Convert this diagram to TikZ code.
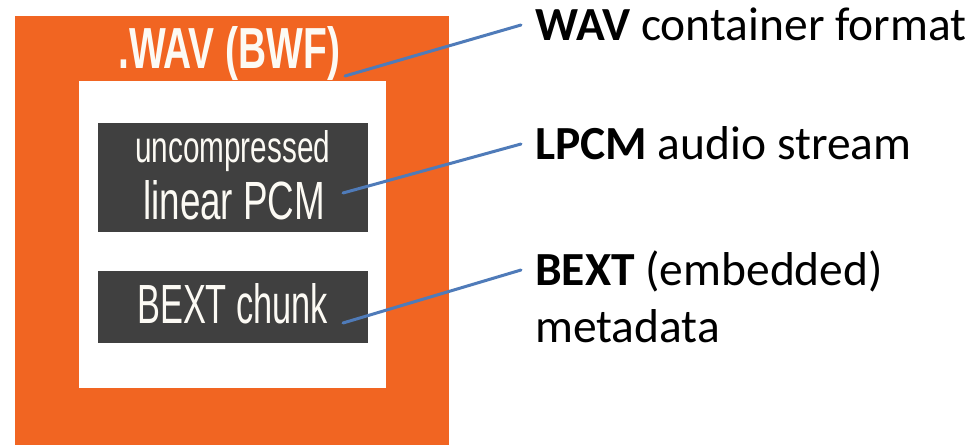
\documentclass[tikz,border=0pt]{standalone}
\usepackage{fontspec}
\usepackage{graphicx}
\setmainfont{Liberation Sans}
\newfontfamily\carlito{Carlito}
\newfontfamily\condf{Liberation Sans}
\definecolor{wavorange}{RGB}{241,101,34}
\definecolor{boxgray}{RGB}{64,64,64}
\definecolor{linkblue}{RGB}{79,123,185}
\definecolor{cream}{RGB}{252,250,244}
\begin{document}
\begin{tikzpicture}[x=1pt,y=-1pt,
  panel/.style={anchor=north west, inner sep=0, outer sep=0, draw=none},
  boxtext/.style={anchor=base west, inner sep=0, text=cream, font=\condf},
  lbl/.style={anchor=base west, inner sep=0, text=black, font=\carlito\fontsize{47.5}{57}\selectfont},
  conn/.style={draw=linkblue, line width=3pt, line cap=round}]
\useasboundingbox (0,0) rectangle (975,447);
\fill[white] (0,0) rectangle (975,447);
% containers
\node[panel, fill=wavorange, minimum width=434pt, minimum height=429pt] (outer) at (15,16) {};
\node[panel, fill=white, minimum width=307pt, minimum height=307pt] (inner) at (79,81) {};
\node[panel, fill=boxgray, minimum width=270pt, minimum height=109pt] (pcmbox) at (98,123) {};
\node[panel, fill=boxgray, minimum width=270pt, minimum height=72pt] (bextbox) at (98,271) {};
% texts in boxes
\node[boxtext, font=\condf\bfseries] (title) at (118,68) {\resizebox{222pt}{42pt}{.WAV (BWF)}};
\node[boxtext] (uncomp) at (135,162) {\resizebox{195pt}{32pt}{uncompressed}};
\node[boxtext] (linpcm) at (143,219) {\resizebox{182pt}{39pt}{linear PCM}};
\node[boxtext] (bextc) at (137,323) {\resizebox{191pt}{40pt}{BEXT chunk}};
% labels
\node[lbl] (wavl) at (535,40) {\textbf{WAV} container format};
\node[lbl] (lpcml) at (535,159) {\textbf{LPCM} audio stream};
\node[lbl] (bextl) at (535,285) {\textbf{BEXT} (embedded)};
\node[lbl] (metal) at (535,342) {metadata};
% connector ends
\coordinate (e1) at (345,76);
\coordinate (e2) at (343,193);
\coordinate (e3) at (343,323);
\coordinate (s1) at ([xshift=-14pt,yshift=15pt]wavl.base west);
\coordinate (s2) at ([xshift=-14pt,yshift=15pt]lpcml.base west);
\coordinate (s3) at ([xshift=-14pt,yshift=15pt]bextl.base west);
\draw[conn] (s1) -- (e1);
\draw[conn] (s2) -- (e2);
\draw[conn] (s3) -- (e3);
\end{tikzpicture}
\end{document}
